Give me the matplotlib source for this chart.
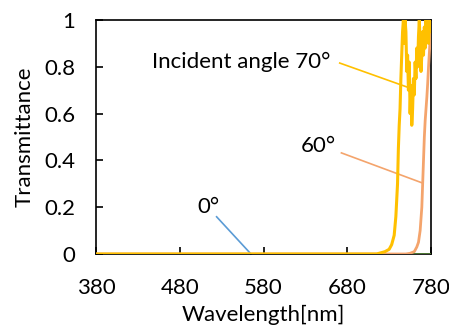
import numpy as np
import matplotlib.pyplot as plt

plt.rcParams['font.family'] = ['Lato', 'DejaVu Sans']

# transmittance spectra for each incident angle
wl_0 = [380, 780]
t_0 = [0, 0]

wl_50 = [380, 780]
t_50 = [0, 0]

wl_60 = [380, 750, 755, 760, 763, 765, 767, 769, 770, 771, 772, 773, 774,
         775, 776, 777, 778, 779, 780]
t_60 = [0, 0, 0.003, 0.01, 0.03, 0.05, 0.1, 0.2, 0.3, 0.4, 0.5, 0.57, 0.62,
        0.67, 0.73, 0.8, 0.86, 0.92, 0.96]

wl_70 = [380, 715, 720, 725, 730, 733, 736, 738, 740, 741, 742, 743, 744,
         745, 746, 747, 748, 749, 750, 751, 752, 753, 754, 755, 756, 757,
         758, 759, 760, 761, 762, 763, 764, 765, 766, 767, 768, 769, 770,
         771, 772, 773, 774, 775, 776, 777, 778, 779, 780]
t_70 = [0, 0, 0.005, 0.01, 0.02, 0.04, 0.08, 0.16, 0.3, 0.45, 0.55, 0.62,
        0.75, 0.85, 0.95, 1.0, 0.9, 1.0, 0.95, 0.78, 0.85, 0.7, 0.82, 0.6,
        0.72, 0.55, 0.62, 0.75, 0.68, 0.82, 0.75, 0.88, 0.8, 0.93, 1.0, 0.9,
        0.78, 0.85, 0.95, 0.85, 0.97, 0.88, 1.0, 0.92, 1.0, 0.9, 1.0, 0.95,
        1.0]

x_ticks = [380, 480, 580, 680, 780]
y_ticks = [0, 0.2, 0.4, 0.6, 0.8, 1]
y_labels = ['0', '0.2', '0.4', '0.6', '0.8', '1']

fig = plt.figure(figsize=(4.49, 3.25), dpi=100)
ax = fig.add_axes([0.2138, 0.2185, 0.7462, 0.72])

ax.plot(wl_0, t_0, color='#5B9BD5', lw=2.0, zorder=2)
ax.plot(wl_50, t_50, color='#548235', lw=2.0, zorder=3)
ax.plot(wl_60, t_60, color='#F4A46C', lw=2.0, zorder=4)
ax.plot(wl_70, t_70, color='#FFC000', lw=2.2, zorder=5)

# callout labels
fs = 16
ax.text(447, 0.82, 'Incident angle 70°', fontsize=fs, va='center', ha='left')
ax.plot([671, 751], [0.816, 0.714], color='#FFC000', lw=1.2, clip_on=False)
ax.text(624, 0.46, '60°', fontsize=fs, va='center', ha='left')
ax.plot([673, 770], [0.432, 0.303], color='#F4A46C', lw=1.2, clip_on=False)
ax.text(501, 0.2, '0°', fontsize=fs, va='center', ha='left')
ax.plot([524, 565], [0.159, 0], color='#5B9BD5', lw=1.2, clip_on=False)

ax.set_xlim(380, 780)
ax.set_ylim(0, 1)
ax.set_xticks(x_ticks)
ax.set_yticks(y_ticks)
ax.set_yticklabels(y_labels)
ax.tick_params(direction='in', length=5, width=1.2, labelsize=fs)
ax.tick_params(axis='x', pad=17)
ax.tick_params(axis='y', pad=15)
for s in ax.spines.values():
    s.set_linewidth(1.2)

ax.set_xlabel('Wavelength[nm]', fontsize=fs, labelpad=5)
ax.set_ylabel('Transmittance', fontsize=fs, labelpad=7)

fig.savefig('out.png', dpi=100)
